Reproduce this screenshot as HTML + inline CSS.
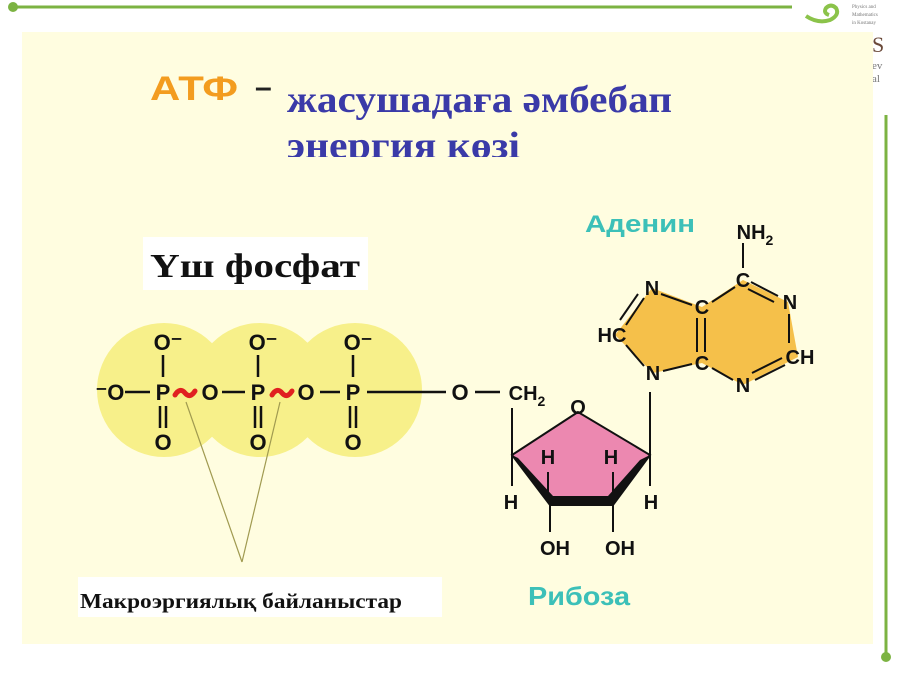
<!DOCTYPE html>
<html><head><meta charset="utf-8"><style>
html,body{margin:0;padding:0;background:#fff;}
svg{display:block}
</style></head><body>
<svg width="900" height="674" viewBox="0 0 900 674" xmlns="http://www.w3.org/2000/svg">
<rect x="0" y="0" width="900" height="674" fill="#fff"/>
<line x1="12" y1="7" x2="792" y2="7" stroke="#7cb342" stroke-width="3"/>
<circle cx="13" cy="7" r="5" fill="#7cb342"/>
<line x1="886" y1="115" x2="886" y2="657" stroke="#7cb342" stroke-width="3"/>
<circle cx="886" cy="657" r="5" fill="#7cb342"/>
<path d="M806 16 q12 8 24 4 q10 -5 6 -12 q-5 -5 -10 0 q-3 5 3 7" fill="none" stroke="#8bc34a" stroke-width="4"/>
<text x="852" y="8" font-family="Liberation Serif,serif" font-size="5" fill="#777">Physics and</text>
<text x="852" y="16" font-family="Liberation Serif,serif" font-size="5" fill="#777">Mathematics</text>
<text x="852" y="24" font-family="Liberation Serif,serif" font-size="5" fill="#777">in Kostanay</text>
<text x="872" y="52" font-family="Liberation Serif,serif" font-size="22" fill="#6b4a3a">S</text>
<text x="872" y="69" font-family="Liberation Serif,serif" font-size="11" fill="#777">ev</text>
<text x="872" y="82" font-family="Liberation Serif,serif" font-size="11" fill="#777">al</text>
<rect x="22" y="32" width="851" height="612" fill="#fffde0"/>
<text x="150" y="100" font-family="Liberation Sans,sans-serif" font-weight="bold" font-size="34" fill="#f39c1f" textLength="88" lengthAdjust="spacingAndGlyphs">АТФ</text>
<text x="255" y="97" font-family="Liberation Sans,sans-serif" font-weight="bold" font-size="30" fill="#222">–</text>
<text x="287" y="112" font-family="Liberation Serif,serif" font-weight="bold" font-size="38" fill="#3a3aa8" textLength="385" lengthAdjust="spacingAndGlyphs">жасушадаға әмбебап</text>
<svg x="0" y="0" width="900" height="157" overflow="hidden"><text x="287" y="158" font-family="Liberation Serif,serif" font-weight="bold" font-size="38" fill="#3a3aa8" textLength="233" lengthAdjust="spacingAndGlyphs">энергия көзі</text></svg>
<rect x="143" y="237" width="225" height="53" fill="#fff"/>
<text x="150" y="277" font-family="Liberation Serif,serif" font-weight="bold" font-size="34" fill="#111" textLength="210" lengthAdjust="spacingAndGlyphs">Үш фосфат</text>
<g fill="#f7f08a">
<circle cx="164" cy="390" r="67"/><circle cx="260" cy="390" r="67"/><circle cx="355" cy="390" r="67"/>
</g>
<g stroke="#111" stroke-width="2.5" fill="none">
<line x1="125" y1="392" x2="150" y2="392"/>
<line x1="222" y1="392" x2="245" y2="392"/>
<line x1="320" y1="392" x2="340" y2="392"/>
<line x1="367" y1="392" x2="446" y2="392"/>
<line x1="475" y1="392" x2="500" y2="392"/>
<line x1="163" y1="355" x2="163" y2="377"/><line x1="258" y1="355" x2="258" y2="377"/><line x1="353" y1="355" x2="353" y2="377"/>
<line x1="160" y1="406" x2="160" y2="428"/><line x1="166" y1="406" x2="166" y2="428"/>
<line x1="255" y1="406" x2="255" y2="428"/><line x1="261" y1="406" x2="261" y2="428"/>
<line x1="350" y1="406" x2="350" y2="428"/><line x1="356" y1="406" x2="356" y2="428"/>
</g>
<g stroke="#e02020" stroke-width="5" fill="none" stroke-linecap="round">
<path d="M175 395 q5 -8 10 -2 q5 6 10 -2"/>
<path d="M272 395 q5 -8 10 -2 q5 6 10 -2"/>
</g>
<g font-family="Liberation Sans,sans-serif" font-weight="bold" font-size="22" fill="#111" text-anchor="middle">
<text x="110" y="400">⁻O</text>
<text x="163" y="400">P</text><text x="258" y="400">P</text><text x="353" y="400">P</text>
<text x="210" y="400">O</text><text x="306" y="400">O</text><text x="460" y="400">O</text>
<text x="168" y="350">O⁻</text><text x="263" y="350">O⁻</text><text x="358" y="350">O⁻</text>
<text x="163" y="450">O</text><text x="258" y="450">O</text><text x="353" y="450">O</text>
</g>
<g stroke="#a09a50" stroke-width="1.2"><line x1="186" y1="402" x2="242" y2="562"/><line x1="280" y1="402" x2="242" y2="562"/></g>
<polygon points="578,412 512,455 550,505 613,505 650,455" fill="#ec88b0" stroke="#111" stroke-width="2"/>
<polygon points="512,455 550,505 613,505 650,455 640,460 608,496 553,496 518,458" fill="#111"/>
<g stroke="#111" stroke-width="2">
<line x1="512" y1="408" x2="512" y2="486"/>
<line x1="650" y1="392" x2="650" y2="486"/>
<line x1="548" y1="472" x2="548" y2="498"/><line x1="613" y1="472" x2="613" y2="498"/>
<line x1="550" y1="505" x2="550" y2="532"/><line x1="613" y1="505" x2="613" y2="532"/>
</g>
<g font-family="Liberation Sans,sans-serif" font-weight="bold" font-size="20" fill="#111" text-anchor="middle">
<text x="527" y="400">CH<tspan font-size="14" dy="6">2</tspan></text>
<text x="578" y="414">O</text>
<text x="548" y="464">H</text><text x="611" y="464">H</text>
<text x="511" y="509">H</text><text x="651" y="509">H</text>
<text x="555" y="555">OH</text><text x="620" y="555">OH</text>
</g>
<polygon points="653,373 615,335 652,288 702,307 743,280 788,302 798,357 743,385 702,363" fill="#f5c04a"/>
<g stroke="#111" stroke-width="2" fill="none">
<line x1="743" y1="243" x2="743" y2="268"/>
<line x1="661" y1="294" x2="692" y2="305"/>
<line x1="712" y1="302" x2="735" y2="287"/>
<line x1="751" y1="282" x2="778" y2="296"/><line x1="748" y1="289" x2="774" y2="302"/>
<line x1="789" y1="314" x2="789" y2="343"/>
<line x1="785" y1="365" x2="755" y2="380"/><line x1="782" y1="358" x2="752" y2="373"/>
<line x1="733" y1="380" x2="712" y2="368"/>
<line x1="697" y1="318" x2="697" y2="352"/><line x1="705" y1="318" x2="705" y2="352"/>
<line x1="692" y1="364" x2="663" y2="371"/>
<line x1="644" y1="366" x2="626" y2="345"/>
<line x1="626" y1="325" x2="644" y2="298"/><line x1="620" y1="320" x2="638" y2="294"/>
</g>
<g font-family="Liberation Sans,sans-serif" font-weight="bold" font-size="20" fill="#111" text-anchor="middle">
<text x="755" y="239">NH<tspan font-size="14" dy="6">2</tspan></text>
<text x="743" y="287">C</text>
<text x="652" y="295">N</text>
<text x="702" y="314">C</text>
<text x="790" y="309">N</text>
<text x="612" y="342">HC</text>
<text x="702" y="370">C</text>
<text x="800" y="364">CH</text>
<text x="653" y="380">N</text>
<text x="743" y="392">N</text>
</g>
<text x="585" y="232" font-family="Liberation Sans,sans-serif" font-weight="bold" font-size="24" fill="#3cc0b8" textLength="110" lengthAdjust="spacingAndGlyphs">Аденин</text>
<text x="528" y="605" font-family="Liberation Sans,sans-serif" font-weight="bold" font-size="26" fill="#3cc0b8" textLength="102" lengthAdjust="spacingAndGlyphs">Рибоза</text>
<rect x="78" y="577" width="364" height="40" fill="#fff"/>
<text x="80" y="608" font-family="Liberation Serif,serif" font-weight="bold" font-size="21" fill="#111" textLength="322" lengthAdjust="spacingAndGlyphs">Макроэргиялық байланыстар</text>
</svg>
</body></html>
